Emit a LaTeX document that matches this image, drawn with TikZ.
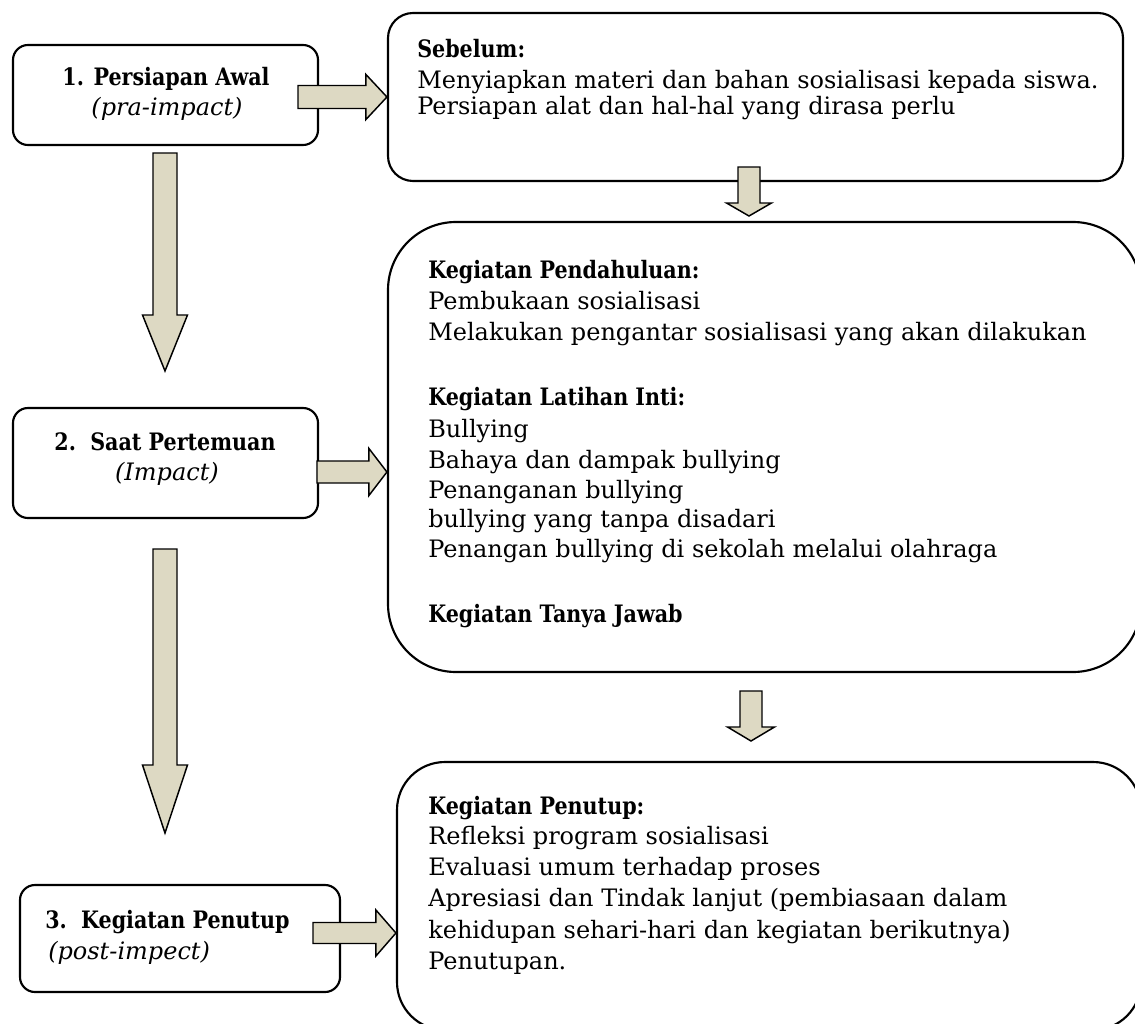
\documentclass[tikz,border=0pt]{standalone}
\usepackage{fontspec}
\setmainfont{DejaVu Serif}[BoldFeatures={FakeStretch=0.86}]
\usetikzlibrary{calc}

\definecolor{arrowtan}{RGB}{221,217,195}

\tikzset{
  stage/.style={draw, line width=1.6pt, rounded corners=11.25pt, minimum width=228.75pt, inner sep=0pt},
  panel/.style={draw, line width=1.6pt, inner sep=0pt},
  blockarrow/.style={draw=black, fill=arrowtan, line width=1.1pt, line join=miter},
  body/.style={anchor=base west, inner sep=0pt, font=\fontsize{18}{21}\selectfont},
  caption/.style={anchor=base, inner sep=0pt, font=\fontsize{18}{21}\selectfont},
}

%% block arrows: start, tip, half shaft, half head, head length
\newcommand{\rightblock}[5]{%
  \draw[blockarrow] ($(#1)+(0,-#3)$) -- ($(#2)+(-#5,-#3)$) -- ($(#2)+(-#5,-#4)$) -- (#2)
    -- ($(#2)+(-#5,#4)$) -- ($(#2)+(-#5,#3)$) -- ($(#1)+(0,#3)$) -- cycle;}
\newcommand{\downblock}[5]{%
  \draw[blockarrow] ($(#1)+(-#3,0)$) -- ($(#2)+(-#3,-#5)$) -- ($(#2)+(-#4,-#5)$) -- (#2)
    -- ($(#2)+(#4,-#5)$) -- ($(#2)+(#3,-#5)$) -- ($(#1)+(#3,0)$) -- cycle;}

\begin{document}
\begin{tikzpicture}[x=0.75pt, y=-0.75pt]
  \useasboundingbox (0,0) rectangle (1135,1024);

  %% ── Stage boxes (left) ─────────────────────────────────────
  \node[stage, minimum height=75pt]                        (prep)  at (165.5,95)  {};
  \node[stage, minimum height=82.5pt]                      (meet)  at (165.5,463) {};
  \node[stage, minimum height=80.25pt, minimum width=240pt] (close) at (180,938.5) {};

  \node[caption] (prepT)  at (166,85)  {\textbf{1. Persiapan Awal}};
  \node[caption] (prepS)  at (167,115) {\textit{(pra-impact)}};
  \node[caption] (meetT)  at (165,450) {\textbf{2.\ \ Saat Pertemuan}};
  \node[caption] (meetS)  at (167,480) {\textit{(Impact)}};
  \node[body]    (closeT) at (45,928)  {\textbf{3.\ \ Kegiatan Penutup}};
  \node[body]    (closeS) at (48,959)  {\textit{(post-impect)}};

  %% ── Activity panels (right) ────────────────────────────────
  \node[panel, rounded corners=18.75pt, minimum width=551.25pt, minimum height=126pt] (before) at (755.5,97) {};
  \node[panel, rounded corners=51pt, minimum width=564.75pt, minimum height=337.5pt]  (during) at (764.5,447) {};
  \node[panel, rounded corners=36pt, minimum width=558pt, minimum height=201pt]       (after)  at (769,896) {};

  \foreach \i/\ty/\txt in {
    1/58/{\textbf{Sebelum:}},
    2/89/{Menyiapkan materi dan bahan sosialisasi kepada siswa.},
    3/114/{Persiapan alat dan hal-hal yang dirasa perlu}}{
    \node[body] (bf\i) at (417,\ty) {\txt};
  }
  \foreach \i/\ty/\txt in {
    1/278/{\textbf{Kegiatan Pendahuluan:}},
    2/309/{Pembukaan sosialisasi},
    3/340/{Melakukan pengantar sosialisasi yang akan dilakukan},
    4/405/{\textbf{Kegiatan Latihan Inti:}},
    5/437/{Bullying},
    6/468/{Bahaya dan dampak bullying},
    7/498/{Penanganan bullying},
    8/527/{bullying yang tanpa disadari},
    9/557/{Penangan bullying di sekolah melalui olahraga},
   10/622/{\textbf{Kegiatan Tanya Jawab}}}{
    \node[body] (du\i) at (428,\ty) {\txt};
  }
  \foreach \i/\ty/\txt in {
    1/814/{\textbf{Kegiatan Penutup:}},
    2/844/{Refleksi program sosialisasi},
    3/875/{Evaluasi umum terhadap proses},
    4/906/{Apresiasi dan Tindak lanjut (pembiasaan dalam},
    5/938/{kehidupan sehari-hari dan kegiatan berikutnya)},
    6/969/{Penutupan.}}{
    \node[body] (af\i) at (428,\ty) {\txt};
  }

  %% ── Block arrows ───────────────────────────────────────────
  \coordinate (r1s) at (298,97);   \coordinate (r1t) at (before.west);
  \coordinate (r2s) at (317,472);  \coordinate (r2t) at (during.west |- r2s);
  \coordinate (r3s) at (313,933);  \coordinate (r3t) at (after.west |- r3s);
  \rightblock{r1s}{r1t}{11.5}{22.5}{21}
  \rightblock{r2s}{r2t}{11}{23.5}{18}
  \rightblock{r3s}{r3t}{10.5}{23}{20}

  \coordinate (d1s) at (165,153);  \coordinate (d1t) at (165,371);
  \coordinate (d2s) at (165,549);  \coordinate (d2t) at (165,833);
  \coordinate (d3s) at (749,167);  \coordinate (d3t) at (749,216);
  \coordinate (d4s) at (751,691);  \coordinate (d4t) at (751,741);
  \downblock{d1s}{d1t}{12}{22.5}{56}
  \downblock{d2s}{d2t}{12}{22.5}{68}
  \downblock{d3s}{d3t}{11}{22.5}{13}
  \downblock{d4s}{d4t}{11}{23.5}{14}
\end{tikzpicture}
\end{document}
